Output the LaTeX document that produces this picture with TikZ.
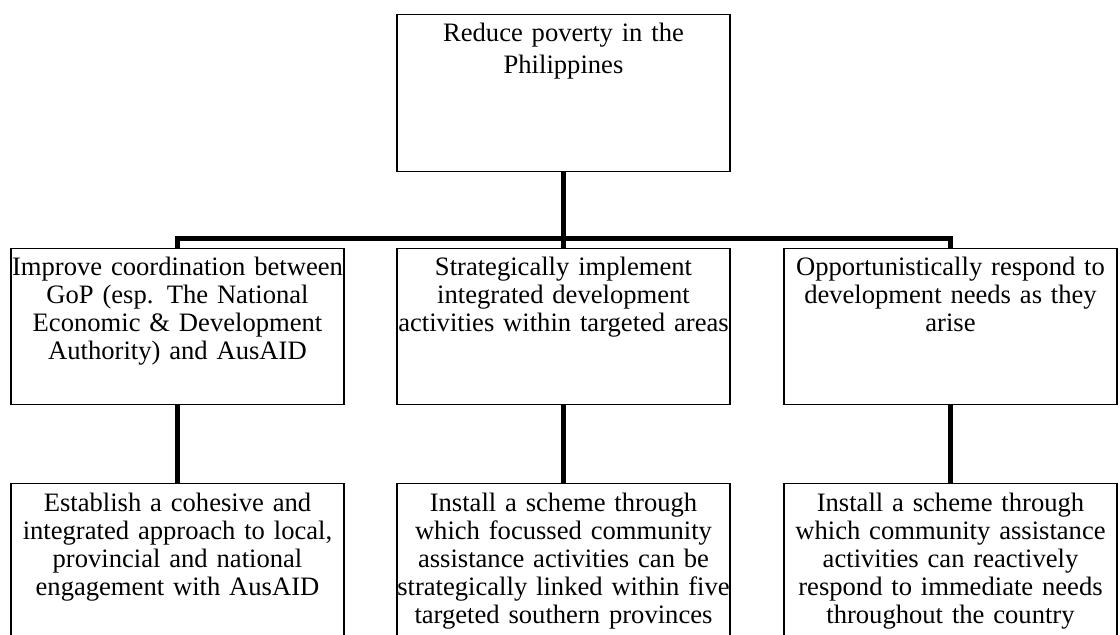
\documentclass[tikz,border=0pt]{standalone}
\usepackage{fontspec}
\setmainfont{Liberation Serif}
\tikzset{
  aimbox/.style={draw, line width=0.75pt, anchor=north, align=center,
    text width=180pt, inner xsep=-6.75pt, inner ysep=0pt,
    text height=13.5pt, text depth=64.5pt,
    font=\fontsize{13.3}{13.9}\selectfont},
  link/.style={line width=2.7pt}
}
\begin{document}
\begin{tikzpicture}[x=0.5pt, y=-0.5pt]
\useasboundingbox (0,0) rectangle (1120,635);
% goal
\node[aimbox, text depth=65pt, font=\fontsize{13.3}{16}\selectfont] (goal) at (563.5,14) {Reduce poverty in the\\Philippines};
% objectives
\node[aimbox] (obj1) at (177.5,248) {Improve coordination between\\GoP (esp. The National\\Economic \& Development\\Authority) and AusAID};
\node[aimbox] (obj2) at (563.5,248) {Strategically implement\\integrated development\\activities within targeted areas};
\node[aimbox] (obj3) at (950.5,248) {Opportunistically respond to\\development needs as they\\arise};
% outputs
\node[aimbox, text height=14pt, text depth=75pt, font=\fontsize{13.3}{14}\selectfont] (out1) at (177.5,483) {Establish a cohesive and\\integrated approach to local,\\provincial and national\\engagement with AusAID};
\node[aimbox, text height=14pt, text depth=75pt, font=\fontsize{13.3}{14}\selectfont] (out2) at (563.5,483) {Install a scheme through\\which focussed community\\assistance activities can be\\strategically linked within five\\targeted southern provinces};
\node[aimbox, text height=14pt, text depth=75pt, font=\fontsize{13.3}{14}\selectfont] (out3) at (950.5,483) {Install a scheme through\\which community assistance\\activities can reactively\\respond to immediate needs\\throughout the country};
% links
\draw[link] (goal.south) -- ++(0,66) -| (obj1.north);
\draw[link] (goal.south) -- (obj2.north);
\draw[link] (goal.south) -- ++(0,66) -| (obj3.north);
\draw[link] (obj1.south) -- (out1.north);
\draw[link] (obj2.south) -- (out2.north);
\draw[link] (obj3.south) -- (out3.north);
\end{tikzpicture}
\end{document}
